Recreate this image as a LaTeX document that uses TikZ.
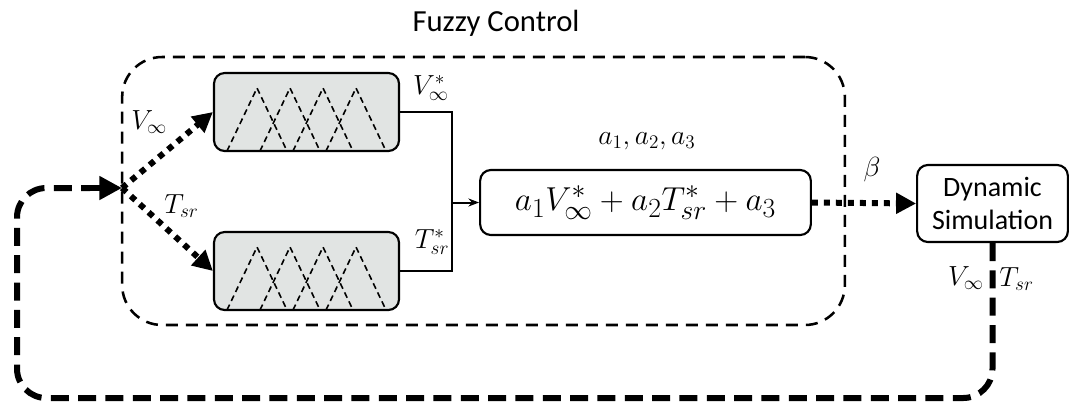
\documentclass[tikz,border=0pt]{standalone}
\usepackage{fontspec}
\setmainfont{Carlito}
\usetikzlibrary{arrows.meta}
\definecolor{boxgray}{HTML}{E1E4E3}
\begin{document}
\begin{tikzpicture}[x=0.75pt,y=-0.75pt,
  fzbox/.style={draw,line width=1.9pt,dash pattern=on 9pt off 6pt,rounded corners=30pt},
  mfbox/.style={draw,line width=1.6pt,fill=boxgray,rounded corners=8pt,minimum width=138.75pt,minimum height=58.5pt,inner sep=0pt},
  rbox/.style={draw,line width=1.6pt,rounded corners=8pt,inner sep=0pt,align=center},
  tri/.style={line width=1.2pt,dash pattern=on 4.5pt off 3pt},
  conn/.style={line width=1.5pt},
  dotarrow/.style={line width=4.5pt,dash pattern=on 4.5pt off 4.5pt,-{Triangle[length=15pt,width=15pt]}},
  loopst/.style={line width=4.5pt,dash pattern=on 13.5pt off 7pt,rounded corners=22pt},
  lab/.style={font=\fontsize{22}{26}\selectfont,inner sep=0pt}]
\useasboundingbox (0,0) rectangle (1070,405);
% title and fuzzy control frame
\node[font=\fontsize{23}{27}\selectfont] (title) at (496,23) {Fuzzy Control};
\node[fzbox,minimum width=542pt,minimum height=201pt] (fuzzy) at (483.5,191) {};
% membership-function boxes
\node[mfbox] (up) at (306.5,112) {};
\node[mfbox] (lo) at (306.5,271) {};
\foreach \yy in {0,159}{
  \foreach \xx in {257,290,323,356}{
    \draw[tri] (\xx-30,151+\yy) -- (\xx,88+\yy) -- (\xx+30,151+\yy);
  }
}
% formula box
\node[rbox,minimum width=248pt,minimum height=48.75pt] (form) at (645.5,202.5) {};
\node[font=\fontsize{32}{36}\selectfont,inner sep=0pt] (ftext) at (form.center) {$a_1V^*_\infty+a_2T^*_{sr}+a_3$};
\node[lab] (coef) at (647,141) {$a_1,a_2,a_3$};
% dynamic simulation box
\node[rbox,minimum width=113pt,minimum height=57.75pt,font=\fontsize{21}{25}\selectfont] (dyn) at (992.5,203.5) {Dynamic\\Simulation};
% input junction and dotted arrows
\coordinate (j) at (122,188);
\draw[dotarrow] (j) -- (up.west);
\draw[dotarrow] (j) -- (lo.west);
\node[lab,anchor=west] (vin) at (131,122) {$V_\infty$};
\node[lab,anchor=west] (tin) at (164,206) {$T_{sr}$};
% outputs to formula
\coordinate (m) at (452,202.5);
\draw[conn] (up.east) -| (m);
\draw[conn] (lo.east) -| (m);
\draw[conn,-{Stealth[length=8pt,width=6pt]}] (m) -- (form.west);
\node[lab] (vstar) at (431,88) {$V^*_\infty$};
\node[lab] (tstar) at (432,242) {$T^*_{sr}$};
% beta
\draw[dotarrow] (form.east) -- (dyn.west);
\node[lab] (beta) at (872,170) {$\beta$};
% feedback loop
\coordinate (bl) at (17,398);
\draw[loopst] (dyn.south) -- (dyn.south |- bl) -- (bl) -- (17,188) -- (90,188);
\draw[line width=4.5pt,-{Triangle[length=17pt,width=17pt]}] (88,188) -- (j);
\node[lab,anchor=east] (vout) at (984,278) {$V_\infty$};
\node[lab,anchor=west] (tout) at (999,279) {$T_{sr}$};
\end{tikzpicture}
\end{document}
